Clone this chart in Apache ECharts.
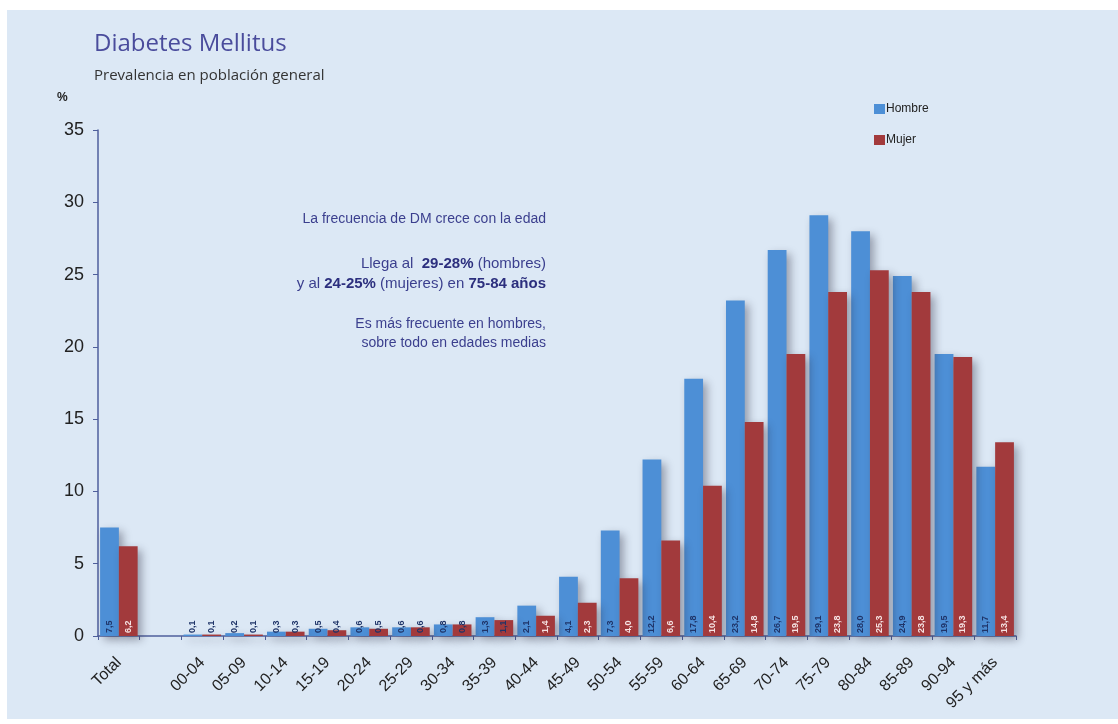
<!DOCTYPE html>
<html>
<head>
<meta charset="utf-8">
<title>Diabetes Mellitus</title>
<script src="https://cdn.jsdelivr.net/npm/echarts@6/dist/echarts.min.js"></script>
<style>
  html, body { margin: 0; padding: 0; background: #ffffff; }
  #chart { width: 1118px; height: 724px; }
</style>
</head>
<body>
<div id="chart"></div>
<script>
// Age groups (a blank slot separates the overall figure from the age bands)
const categories = ['Total', '', '00-04', '05-09', '10-14', '15-19', '20-24', '25-29', '30-34',
  '35-39', '40-44', '45-49', '50-54', '55-59', '60-64', '65-69', '70-74', '75-79',
  '80-84', '85-89', '90-94', '95 y más'];

// Prevalence (%) by sex
const hombre = [7.5, null, 0.1, 0.2, 0.3, 0.5, 0.6, 0.6, 0.8, 1.3, 2.1, 4.1, 7.3, 12.2,
  17.8, 23.2, 26.7, 29.1, 28.0, 24.9, 19.5, 11.7];
const mujer = [6.2, null, 0.1, 0.1, 0.3, 0.4, 0.5, 0.6, 0.8, 1.1, 1.4, 2.3, 4.0, 6.6,
  10.4, 14.8, 19.5, 23.8, 25.3, 23.8, 19.3, 13.4];

const yTicks = { min: 0, max: 35, interval: 5 };

const BLUE = '#4d8fd6';
const RED = '#a23a3c';
const DARK_LABEL = '#1f3468';
const LIGHT_LABEL = '#f6e4e4';

const fmt = p => (p.value == null ? '' : p.value.toFixed(1).replace('.', ','));

const barLabel = {
  show: true,
  position: 'insideBottom',
  rotate: 90,
  align: 'left',
  verticalAlign: 'middle',
  distance: 3,
  fontFamily: 'Liberation Sans',
  fontSize: 9,
  fontWeight: 'bold',
  formatter: fmt
};

const shadow = {
  shadowColor: 'rgba(40,40,60,0.4)',
  shadowBlur: 9,
  shadowOffsetX: 4,
  shadowOffsetY: 4
};

const mujerData = mujer.map(v => ({
  value: v,
  label: { color: v != null && v < 1.2 ? DARK_LABEL : LIGHT_LABEL }
}));

const chart = echarts.init(document.getElementById('chart'), null, { renderer: 'canvas' });

const annoFont = 'Liberation Sans';
const annoColor = '#3b3f8e';
const annoBold = '#2c2f7e';
const annoRich = {
  n: { fontFamily: annoFont, fontSize: 15, fill: annoColor, fontWeight: 'normal' },
  b: { fontFamily: annoFont, fontSize: 15, fill: annoBold, fontWeight: 'bold' }
};

chart.setOption({
  backgroundColor: '#ffffff',
  animation: false,
  graphic: [
    {
      type: 'rect', z: -10, silent: true,
      shape: { x: 7, y: 10, width: 1111, height: 709 },
      style: { fill: '#dce8f5' }
    },
    {
      type: 'text', left: 57, top: 92, silent: true,
      style: { text: '%', font: 'bold 12px "Liberation Sans"', fill: '#222' }
    },
    {
      type: 'text', silent: true, x: 546, y: 219,
      style: {
        text: 'La frecuencia de DM crece con la edad',
        font: '14px "Liberation Sans"', fill: annoColor,
        align: 'right', verticalAlign: 'middle'
      }
    },
    {
      type: 'text', silent: true, x: 546, y: 264,
      style: {
        text: '{n|Llega al  }{b|29-28%}{n| (hombres)}',
        fill: annoColor,
        font: '15px "Liberation Sans"',
        align: 'right', verticalAlign: 'middle',
        rich: annoRich
      }
    },
    {
      type: 'text', silent: true, x: 546, y: 284,
      style: {
        text: '{n|y al }{b|24-25%}{n| (mujeres) en }{b|75-84 años}',
        fill: annoColor,
        font: '15px "Liberation Sans"',
        align: 'right', verticalAlign: 'middle',
        rich: annoRich
      }
    },
    {
      type: 'text', silent: true, x: 546, y: 324,
      style: {
        text: 'Es más frecuente en hombres,',
        font: '14px "Liberation Sans"', fill: annoColor,
        align: 'right', verticalAlign: 'middle'
      }
    },
    {
      type: 'text', silent: true, x: 546, y: 343,
      style: {
        text: 'sobre todo en edades medias',
        font: '14px "Liberation Sans"', fill: annoColor,
        align: 'right', verticalAlign: 'middle'
      }
    }
  ],
  title: {
    text: 'Diabetes Mellitus',
    subtext: 'Prevalencia en población general',
    left: 89,
    top: 27,
    itemGap: 12,
    textStyle: { fontFamily: 'Open Sans', fontSize: 24, fontWeight: 'normal', color: '#4a4c9c' },
    subtextStyle: { fontFamily: 'Open Sans', fontSize: 15, color: '#333333' }
  },
  legend: {
    orient: 'vertical',
    left: 869,
    top: 98,
    itemWidth: 11,
    itemHeight: 10,
    itemGap: 19,
    icon: 'rect',
    textStyle: { fontFamily: 'Liberation Sans', fontSize: 12, color: '#222', padding: [0, 0, 0, -4] },
    data: ['Hombre', 'Mujer']
  },
  grid: { left: 98, right: 102, top: 130, bottom: 88, containLabel: false },
  xAxis: {
    type: 'category',
    data: categories,
    axisLine: { lineStyle: { color: '#4f5f9c', width: 1.5 } },
    axisTick: { show: true, length: 4, lineStyle: { color: '#4f5f9c' } },
    axisLabel: {
      rotate: 45,
      interval: 0,
      margin: 24,
      fontFamily: 'Liberation Sans',
      fontSize: 16,
      color: '#222'
    }
  },
  yAxis: {
    type: 'value',
    min: yTicks.min,
    max: yTicks.max,
    interval: yTicks.interval,
    axisLine: { show: true, lineStyle: { color: '#4f5f9c', width: 1.5 } },
    axisTick: { show: true, length: 5, lineStyle: { color: '#4f5f9c' } },
    splitLine: { show: false },
    axisLabel: { margin: 14, fontFamily: 'Liberation Sans', fontSize: 18, color: '#222' }
  },
  series: [
    {
      name: 'Hombre',
      type: 'bar',
      data: hombre,
      barGap: '0%',
      barCategoryGap: '10%',
      itemStyle: Object.assign({ color: BLUE }, shadow),
      label: Object.assign({ color: DARK_LABEL }, barLabel)
    },
    {
      name: 'Mujer',
      type: 'bar',
      data: mujerData,
      barGap: '0%',
      barCategoryGap: '10%',
      itemStyle: Object.assign({ color: RED }, shadow),
      label: Object.assign({ color: LIGHT_LABEL }, barLabel)
    }
  ]
});
</script>
</body>
</html>
